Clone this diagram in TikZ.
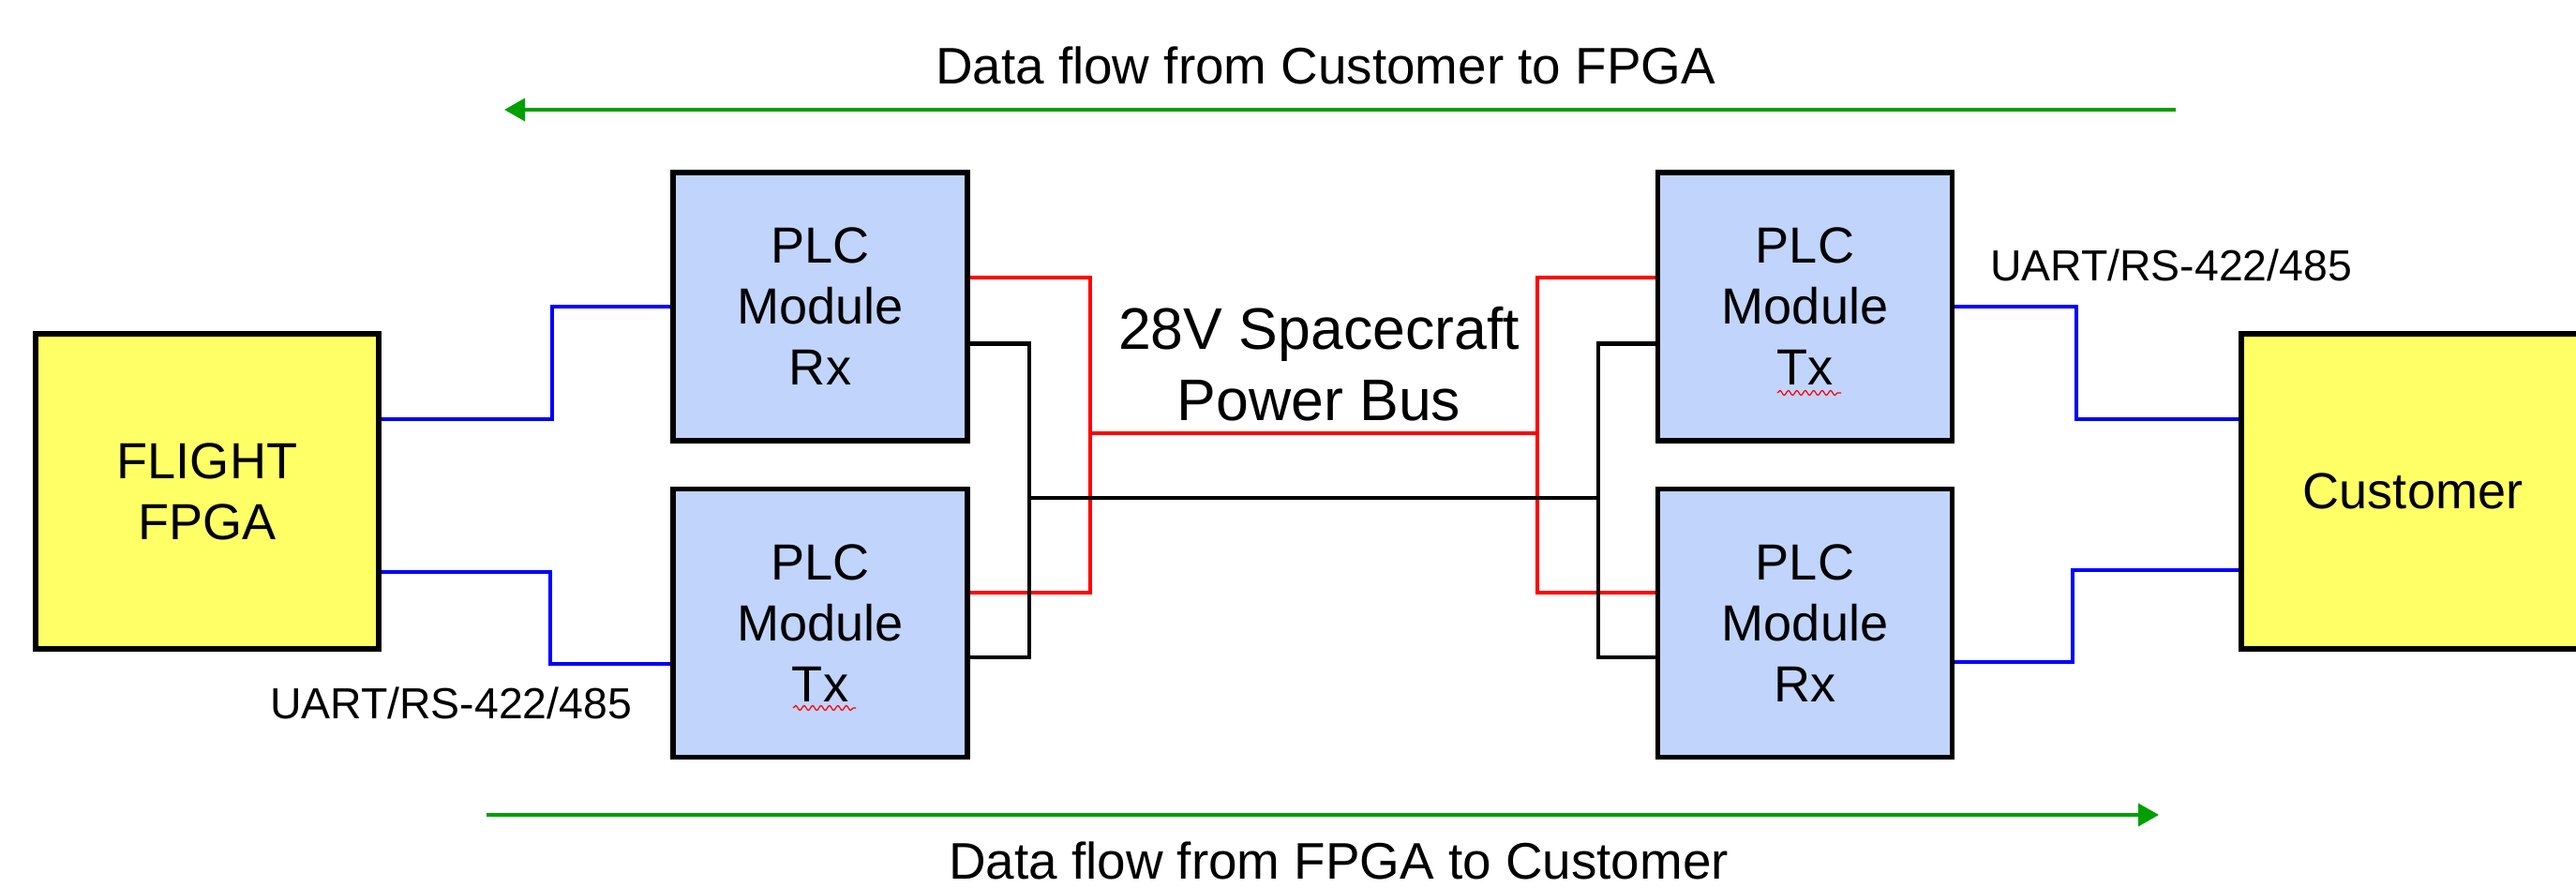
\documentclass[tikz,border=0pt]{standalone}
\usepackage{fontspec}
\setmainfont{Liberation Sans}
\usepackage{tikz}
\usetikzlibrary{arrows.meta, positioning, decorations.pathmorphing}
\definecolor{amarillo}{HTML}{FFFF66}
\definecolor{lavanda}{HTML}{C1D4FB}
\definecolor{verde}{HTML}{00A000}
\definecolor{azul}{HTML}{0000FF}
\definecolor{rojo}{HTML}{FF0000}
\tikzset{
  every picture/.style={>=Stealth},
  chip/.style={draw=black, fill=amarillo, line width=1.5pt, inner sep=0pt,
              minimum width=3.66cm, minimum height=3.36cm, align=center,
              font=\fontsize{15.4}{18.5}\selectfont},
  plc/.style={draw=black, fill=lavanda, line width=1.5pt, inner sep=0pt,
              minimum width=3.14cm, minimum height=2.86cm, align=center,
              font=\fontsize{15.4}{18.5}\selectfont},
  etiq/.style={font=\fontsize{13.2}{15.8}\selectfont, inner sep=0pt},
  rotulo/.style={font=\fontsize{15.6}{18.7}\selectfont, inner sep=0pt},
  serie/.style={azul, line width=1.2pt},
  potencia/.style={rojo, line width=1.2pt},
  retorno/.style={black, line width=1.2pt},
  flujo/.style={-{Triangle[length=0.22cm, width=0.24cm]}, verde, line width=1pt},
  corrector/.style={rojo, line width=0.35pt,
              decorate, decoration={snake, amplitude=0.25mm, segment length=0.9mm}},
}

\begin{document}
\begin{tikzpicture}
  \useasboundingbox (0,0) rectangle (27.48,9.46);
  % blocks
  \node[chip] (fpga) at (2.21,4.22) {FLIGHT\\FPGA};
  \node[plc] (rxL) at (8.75,6.19) {PLC\\Module\\Rx};
  \node[plc] (txL) at (8.75,2.815) {PLC\\Module\\Tx};
  \node[plc] (txR) at (19.255,6.19) {PLC\\Module\\Tx};
  \node[plc] (rxR) at (19.255,2.815) {PLC\\Module\\Rx};
  \node[chip] (cust) at (25.74,4.22) {Customer};
  \node[font=\fontsize{17.8}{21.6}\selectfont, align=center] (bus) at (14.07,5.58) {28V Spacecraft\\Power Bus};
  \node[etiq] (uartL) at (4.81,1.96) {UART/RS-422/485};
  \node[etiq] (uartR) at (23.16,6.63) {UART/RS-422/485};
  \node[rotulo] (arriba) at (14.14,8.76) {Data flow from Customer to FPGA};
  \node[rotulo] (abajo) at (14.28,0.28) {Data flow from FPGA to Customer};
  % serial links
  \draw[serie] ([yshift=0.77cm]fpga.east) -- ++(1.82,0) |- (rxL.west);
  \draw[serie] ([yshift=-0.86cm]fpga.east) -- ++(1.80,0) |- ([yshift=-0.435cm]txL.west);
  \draw[serie] (txR.east) -- ++(1.30,0) |- ([yshift=0.77cm]cust.west);
  \draw[serie] ([yshift=-0.415cm]rxR.east) -- ++(1.255,0) |- ([yshift=-0.84cm]cust.west);
  % power bus
  \coordinate (rojoL) at (11.63,4.84);
  \coordinate (rojoR) at (16.40,4.84);
  \coordinate (negroL) at (10.98,4.15);
  \coordinate (negroR) at (17.05,4.15);
  \draw[potencia] ([yshift=0.31cm]rxL.east) -| (rojoL) |- ([yshift=0.325cm]txL.east);
  \draw[potencia] ([yshift=0.31cm]txR.west) -| (rojoR) |- ([yshift=0.325cm]rxR.west);
  \draw[potencia] (rojoL) -- (rojoR);
  \draw[retorno] ([yshift=-0.395cm]rxL.east) -| (negroL) |- ([yshift=-0.365cm]txL.east);
  \draw[retorno] ([yshift=-0.395cm]txR.west) -| (negroR) |- ([yshift=-0.365cm]rxR.west);
  \draw[retorno] (negroL) -- (negroR);
  % data flow arrows
  \coordinate (f1a) at (23.21,8.29);
  \coordinate (f1b) at (5.38,8.29);
  \coordinate (f2a) at (5.19,0.77);
  \coordinate (f2b) at (23.03,0.77);
  \draw[flujo] (f1a) -- (f1b);
  \draw[flujo] (f2a) -- (f2b);
  % spell-check marks under Tx
  \draw[corrector] (8.46,1.91) -- (9.13,1.91);
  \draw[corrector] (18.96,5.27) -- (19.64,5.27);
\end{tikzpicture}
\end{document}
